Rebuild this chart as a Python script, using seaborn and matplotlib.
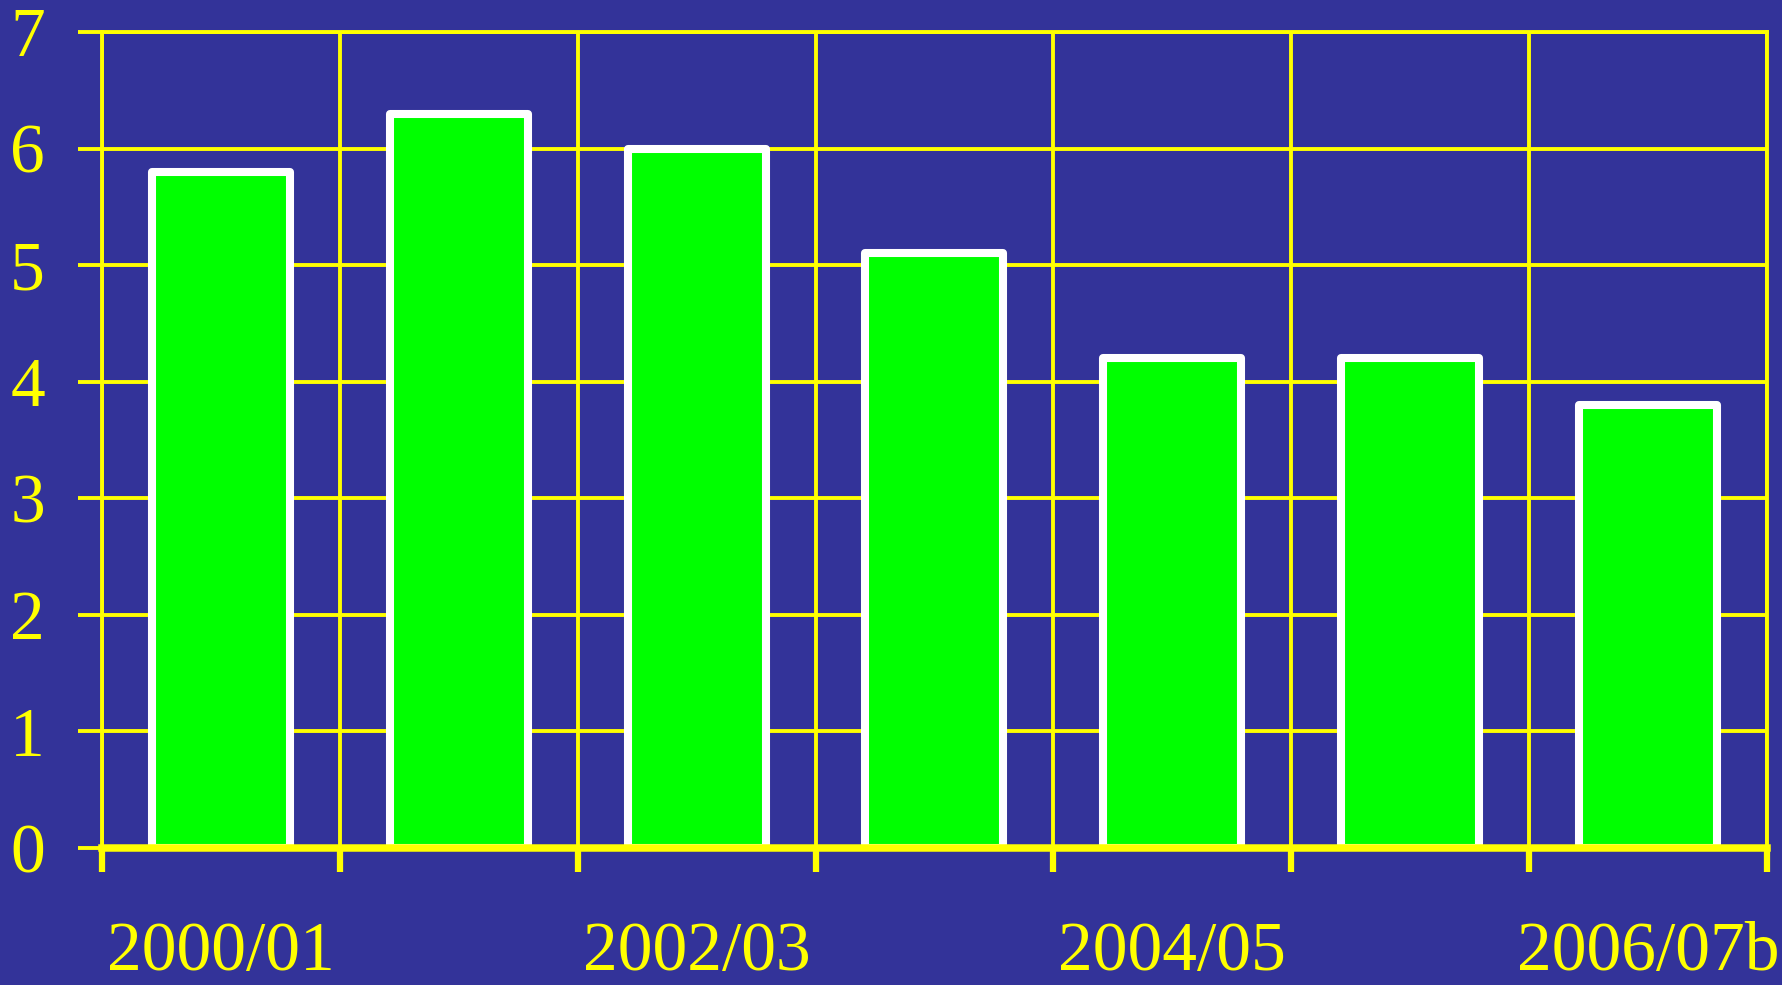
import matplotlib
matplotlib.use("Agg")
from matplotlib import pyplot as plt
from matplotlib.ticker import FixedLocator, NullFormatter, FixedFormatter
import pandas as pd
import seaborn as sns

##### Data
years = ["2000/01", "2001/02", "2002/03", "2003/04", "2004/05", "2005/06", "2006/07b"]
values = [5.8, 6.3, 6.0, 5.1, 4.2, 4.2, 3.8]
label_every = 2          # only every other year is labelled
y_ticks = [0, 1, 2, 3, 4, 5, 6, 7]

df = pd.DataFrame({"Year": years, "Value": values})

bg = "#333399"
yellow = "#ffff00"
green = "#00ff00"

sns.set_theme(style="dark")
plt.rcParams['font.family'] = ['Liberation Serif', 'DejaVu Serif']

fig = plt.figure(figsize=(17.82, 9.85), dpi=100, facecolor=bg)
ax = fig.add_axes([0.0572, 0.1391, 0.9344, 0.8284])
ax.set_facecolor(bg)

sns.barplot(data=df, x="Year", y="Value", ax=ax, color=green, saturation=1,
            width=0.58, edgecolor="white", linewidth=5.8, zorder=2)
for p in ax.patches:
    p.set_joinstyle("round")

n = len(years)
ax.set_xlim(-0.5, n - 0.5)
ax.set_ylim(0, 7)

# grid lines sit on the category boundaries, labels sit on every other bar
ax.xaxis.set_major_locator(FixedLocator([i - 0.5 for i in range(n + 1)]))
ax.xaxis.set_major_formatter(NullFormatter())
ax.xaxis.set_minor_locator(FixedLocator(list(range(0, n, label_every))))
ax.xaxis.set_minor_formatter(FixedFormatter(years[::label_every]))
ax.set_yticks(y_ticks)
ax.set_yticklabels([str(t) for t in y_ticks])

ax.set_axisbelow(True)
ax.grid(True, which="major", color=yellow, linewidth=2.8)
ax.grid(False, which="minor")

ax.tick_params(axis="x", which="major", length=17, width=4.5, color=yellow, direction="out", bottom=True)
ax.tick_params(axis="x", which="minor", length=0, pad=53, labelsize=50, labelcolor=yellow)
ax.tick_params(axis="y", which="major", length=17, width=2.8, color=yellow, direction="out",
               left=True, pad=24, labelsize=50, labelcolor=yellow)

for side in ["top", "right", "left"]:
    ax.spines[side].set_color(yellow)
    ax.spines[side].set_linewidth(2.8)
ax.spines["bottom"].set_color(yellow)
ax.spines["bottom"].set_linewidth(5.4)
ax.spines["bottom"].set_zorder(5)

ax.set_xlabel("")
ax.set_ylabel("")

plt.savefig("out.png", dpi=100, facecolor=bg)
